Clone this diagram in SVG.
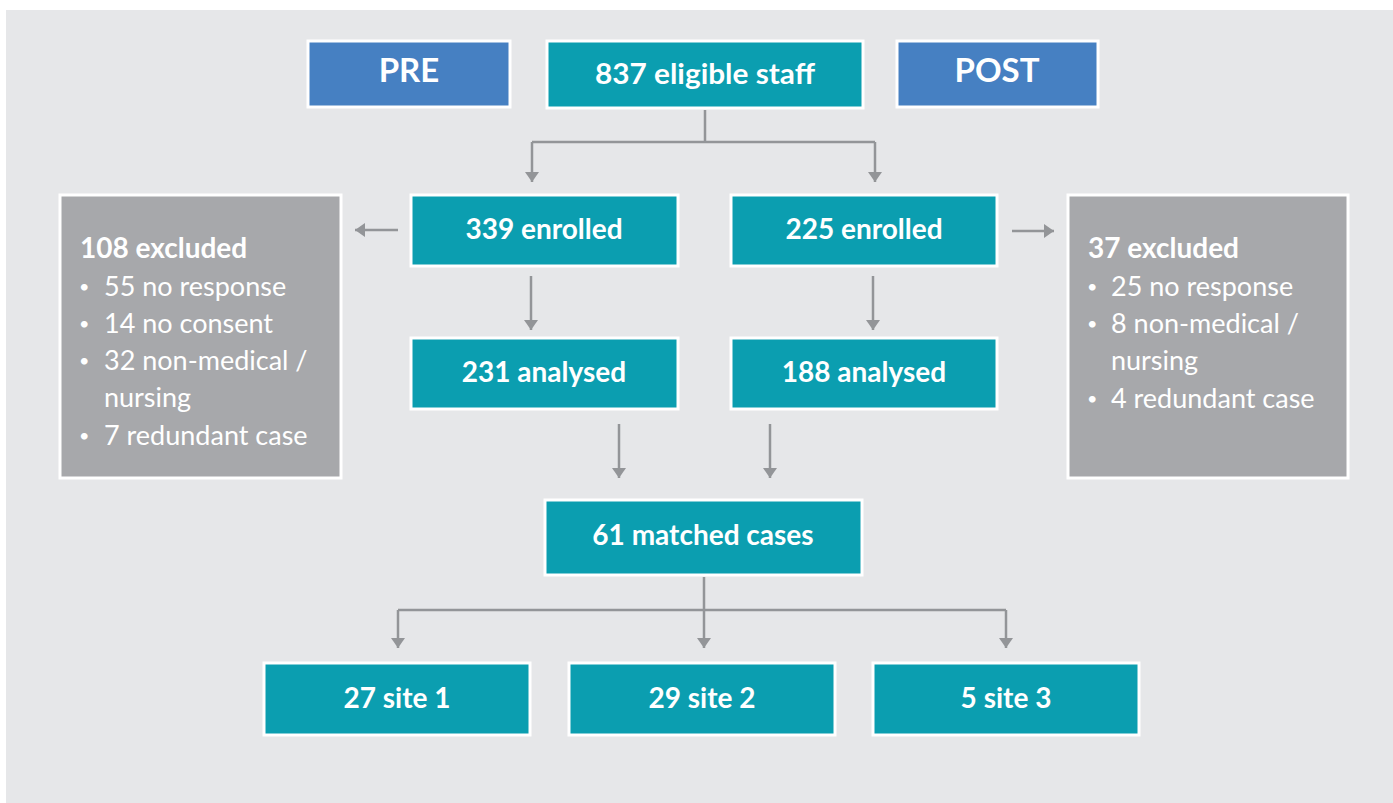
<svg xmlns="http://www.w3.org/2000/svg" width="1393" height="803" viewBox="0 0 1393 803">
<defs>
<style>
.bg{fill:#e6e7e9}
.teal{fill:#0b9eb0;stroke:#ffffff;stroke-width:3}
.blue{fill:#4680c2;stroke:#ffffff;stroke-width:3}
.grey{fill:#a7a8ab;stroke:#ffffff;stroke-width:3}
.lbl{font-family:"Lato","Open Sans","Liberation Sans",sans-serif;font-weight:700;font-size:28px;fill:#ffffff;text-anchor:middle}
.big{font-family:"Lato","Open Sans","Liberation Sans",sans-serif;font-weight:700;font-size:33px;fill:#ffffff;text-anchor:middle}
.hd{font-family:"Lato","Open Sans","Liberation Sans",sans-serif;font-weight:700;font-size:28px;fill:#ffffff}
.li{font-family:"Lato","Open Sans","Liberation Sans",sans-serif;font-weight:400;font-size:27px;fill:#ffffff}
.bu{font-family:"Lato","Open Sans","Liberation Sans",sans-serif;font-weight:400;font-size:18px;fill:#ffffff}
.ln{fill:none;stroke:#939598;stroke-width:2.5}
</style>
<marker id="ah" viewBox="0 0 10 14" refX="10" refY="7" markerWidth="4" markerHeight="5.6" markerUnits="strokeWidth" orient="auto">
<path d="M0,0 L10,7 L0,14 Z" fill="#939598"/>
</marker>
</defs>
<rect width="1393" height="803" fill="#ffffff"/>
<rect class="bg" x="6" y="10" width="1387" height="793"/>

<g id="connectors">
<path class="ln" d="M705,110 V142 M532,142 H875" />
<path class="ln" d="M532,142 V182" marker-end="url(#ah)"/>
<path class="ln" d="M875,142 V182" marker-end="url(#ah)"/>
<path class="ln" d="M398,230 H355" marker-end="url(#ah)"/>
<path class="ln" d="M1012,231 H1054" marker-end="url(#ah)"/>
<path class="ln" d="M531,276 V330" marker-end="url(#ah)"/>
<path class="ln" d="M873,276 V330" marker-end="url(#ah)"/>
<path class="ln" d="M619,424 V478" marker-end="url(#ah)"/>
<path class="ln" d="M770,424 V478" marker-end="url(#ah)"/>
<path class="ln" d="M704,577 V610 M398,610 H1006" />
<path class="ln" d="M398,610 V648" marker-end="url(#ah)"/>
<path class="ln" d="M704,610 V648" marker-end="url(#ah)"/>
<path class="ln" d="M1006,610 V648" marker-end="url(#ah)"/>
</g>

<g id="pre"><rect class="blue" x="308" y="41" width="202" height="66"/><text class="big" x="409" y="82">PRE</text></g>
<g id="eligible"><rect class="teal" x="547" y="41" width="316" height="67"/><text class="lbl" x="705" y="84" textLength="220" lengthAdjust="spacingAndGlyphs">837 eligible staff</text></g>
<g id="post"><rect class="blue" x="897" y="41" width="201" height="66"/><text class="big" x="997" y="82">POST</text></g>

<g id="enrolled-pre"><rect class="teal" x="411" y="195" width="267" height="71"/><text class="lbl" x="544" y="239">339 enrolled</text></g>
<g id="enrolled-post"><rect class="teal" x="731" y="195" width="266" height="71"/><text class="lbl" x="864" y="239">225 enrolled</text></g>
<g id="analysed-pre"><rect class="teal" x="411" y="338" width="267" height="71"/><text class="lbl" x="544" y="382">231 analysed</text></g>
<g id="analysed-post"><rect class="teal" x="731" y="338" width="266" height="71"/><text class="lbl" x="864" y="382">188 analysed</text></g>

<g id="excluded-pre"><rect class="grey" x="60" y="195" width="281" height="283"/>
<text class="hd" x="80" y="258">108 excluded</text>
<text class="bu" x="79" y="293">•</text><text class="li" x="104" y="296">55 no response</text>
<text class="bu" x="79" y="330">•</text><text class="li" x="104" y="333">14 no consent</text>
<text class="bu" x="79" y="367">•</text><text class="li" x="104" y="370">32 non-medical /</text>
<text class="li" x="104" y="407">nursing</text>
<text class="bu" x="79" y="442">•</text><text class="li" x="104" y="445">7 redundant case</text>
</g>
<g id="excluded-post"><rect class="grey" x="1068" y="195" width="280" height="283"/>
<text class="hd" x="1088" y="258">37 excluded</text>
<text class="bu" x="1087" y="293">•</text><text class="li" x="1111" y="296">25 no response</text>
<text class="bu" x="1087" y="330">•</text><text class="li" x="1111" y="333">8 non-medical /</text>
<text class="li" x="1111" y="370">nursing</text>
<text class="bu" x="1087" y="405">•</text><text class="li" x="1111" y="408">4 redundant case</text>
</g>

<g id="matched"><rect class="teal" x="545" y="500" width="317" height="75"/><text class="lbl" x="703" y="545">61 matched cases</text></g>
<g id="site1"><rect class="teal" x="264" y="663" width="266" height="72"/><text class="lbl" x="397" y="708">27 site 1</text></g>
<g id="site2"><rect class="teal" x="569" y="663" width="266" height="72"/><text class="lbl" x="702" y="708">29 site 2</text></g>
<g id="site3"><rect class="teal" x="873" y="663" width="266" height="72"/><text class="lbl" x="1006" y="708">5 site 3</text></g>
</svg>
